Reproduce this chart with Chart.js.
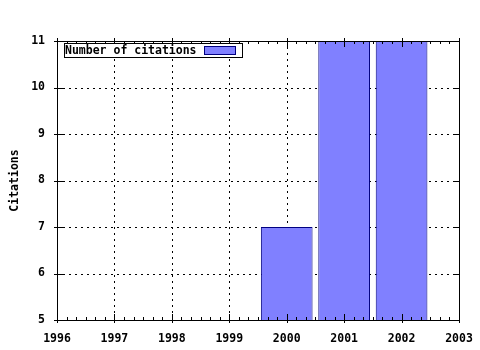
<!DOCTYPE html>
<html>
<head>
<meta charset="utf-8">
<script src="https://cdn.jsdelivr.net/npm/chart.js@4.4.0/dist/chart.umd.min.js"></script>
<style>
  html, body { margin: 0; padding: 0; background: #ffffff; }
  #wrap { width: 480px; height: 350px; }
</style>
</head>
<body>
<div id="wrap"><canvas id="grafico_citacoes" width="480" height="350"></canvas></div>
<script>
// dados do gráfico
var anos = [2000, 2001, 2002];
var citacoes = [7, 11, 11];
var rotuloSerie = "Number of citations";
var rotuloY = "Citations";
var ticksX = [1996, 1997, 1998, 1999, 2000, 2001, 2002, 2003];
var ticksY = [5, 6, 7, 8, 9, 10, 11];

var fonte = { family: "'DejaVu Sans Mono', monospace", size: 11.5, weight: "bold" };

// grade pontilhada por baixo das barras
var grade = {
    id: "grade",
    beforeDatasetsDraw: function (chart) {
        var ctx = chart.ctx;
        var a = chart.chartArea;
        var sx = chart.scales.x;
        var sy = chart.scales.y;
        ctx.save();
        ctx.strokeStyle = "#000";
        ctx.lineWidth = 1;
        ctx.setLineDash([2, 4]);
        ctx.beginPath();
        for (var i = 1; i < ticksX.length - 1; i++) {
            var px = Math.round(sx.getPixelForValue(ticksX[i])) + 0.5;
            ctx.moveTo(px, a.top); ctx.lineTo(px, a.bottom);
        }
        for (var j = 1; j < ticksY.length - 1; j++) {
            var py = Math.round(sy.getPixelForValue(ticksY[j])) + 0.5;
            ctx.moveTo(a.left, py); ctx.lineTo(a.right, py);
        }
        ctx.stroke();
        ctx.restore();
    }
};

// moldura, ticks internos e legenda no estilo gnuplot
var moldura = {
    id: "moldura",
    afterDraw: function (chart) {
        var ctx = chart.ctx;
        var a = chart.chartArea;
        var sx = chart.scales.x;
        var sy = chart.scales.y;
        ctx.save();
        ctx.strokeStyle = "#000";
        ctx.lineWidth = 1;
        ctx.strokeRect(Math.round(a.left) + 0.5, Math.round(a.top) + 0.5,
            Math.round(a.right - a.left), Math.round(a.bottom - a.top));

        ctx.beginPath();
        for (var i = 0; i < ticksX.length; i++) {
            var px = Math.round(sx.getPixelForValue(ticksX[i])) + 0.5;
            ctx.moveTo(px, a.bottom + 3); ctx.lineTo(px, a.bottom - 6);
            ctx.moveTo(px, a.top - 3); ctx.lineTo(px, a.top + 6);
            if (i < ticksX.length - 1) {
                for (var m = 1; m < 6; m++) {
                    var pm = Math.round(sx.getPixelForValue(ticksX[i] + m / 6)) + 0.5;
                    ctx.moveTo(pm, a.bottom); ctx.lineTo(pm, a.bottom - 3);
                    ctx.moveTo(pm, a.top); ctx.lineTo(pm, a.top + 3);
                }
            }
        }
        for (var j = 0; j < ticksY.length; j++) {
            var py = Math.round(sy.getPixelForValue(ticksY[j])) + 0.5;
            ctx.moveTo(a.left - 3, py); ctx.lineTo(a.left + 6, py);
            ctx.moveTo(a.right, py); ctx.lineTo(a.right - 6, py);
        }
        ctx.stroke();

        // legenda
        var ds = chart.data.datasets[0];
        ctx.font = "bold 11.5px 'DejaVu Sans Mono', monospace";
        ctx.fillStyle = "#fff";
        ctx.fillRect(64, 43, 178, 14);
        ctx.strokeRect(64.5, 43.5, 178, 14);
        ctx.fillStyle = "#000";
        ctx.textBaseline = "middle";
        ctx.textAlign = "left";
        ctx.fillText(ds.label, 65, 51);
        ctx.fillStyle = ds.backgroundColor;
        ctx.fillRect(204, 46, 31, 8);
        ctx.strokeStyle = ds.borderColor;
        ctx.strokeRect(204.5, 46.5, 31, 8);
        ctx.restore();
    }
};

var dados = {
    datasets: [{
        label: rotuloSerie,
        data: [],
        backgroundColor: "#8080ff",
        borderColor: "#000080",
        borderWidth: 1,
        borderSkipped: false,
        barPercentage: 0.9,
        categoryPercentage: 1.0
    }]
};

for (var i = 0; i < anos.length; i++) {
    dados.datasets[0].data.push({ x: anos[i], y: citacoes[i] });
}

var config = {
    type: "bar",
    data: dados,
    plugins: [grade, moldura],
    options: {
        responsive: false,
        animation: false,
        layout: { padding: { top: 41, right: 21, bottom: 0, left: 8 } },
        plugins: { legend: { display: false }, tooltip: { enabled: false } },
        scales: {
            x: {
                type: "linear",
                offset: false,
                min: 1996,
                max: 2003,
                afterBuildTicks: function (s) { s.ticks = ticksX.map(function (v) { return { value: v }; }); },
                afterFit: function (s) { s.height = 30; },
                ticks: { color: "#000", font: fonte, padding: 4, maxRotation: 0,
                    callback: function (v) { return String(v); } },
                grid: { display: false },
                border: { display: false }
            },
            y: {
                min: 5,
                max: 11,
                afterBuildTicks: function (s) { s.ticks = ticksY.map(function (v) { return { value: v }; }); },
                afterFit: function (s) { s.width = 49; },
                ticks: { color: "#000", font: fonte, padding: 4 },
                grid: { display: false },
                border: { display: false },
                title: { display: true, text: rotuloY, color: "#000", font: fonte, padding: { top: 0, bottom: 4 } }
            }
        }
    }
};

var meuGrafico = new Chart(document.getElementById("grafico_citacoes"), config);
</script>
</body>
</html>
